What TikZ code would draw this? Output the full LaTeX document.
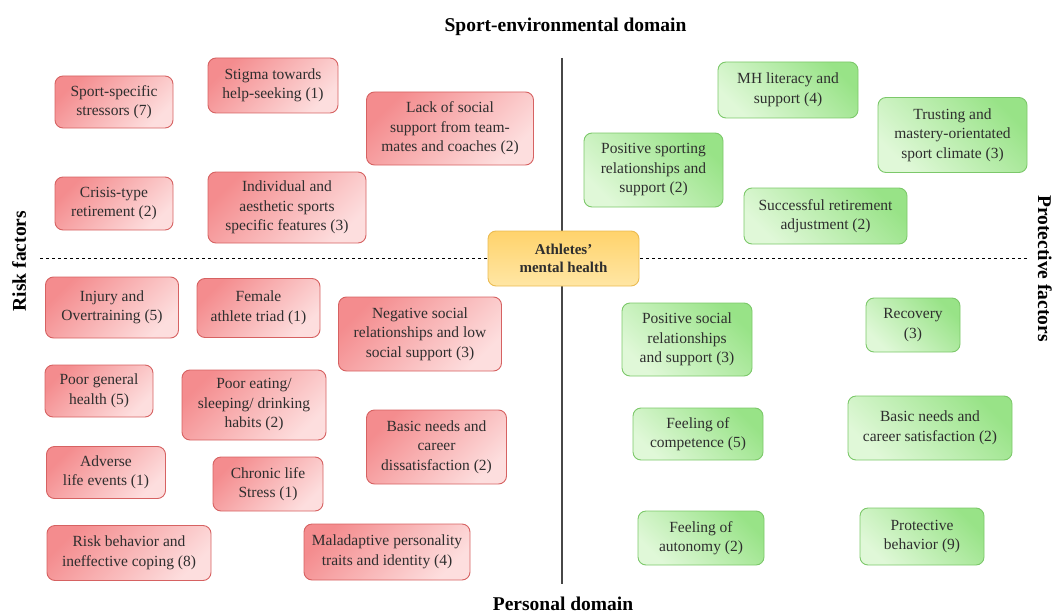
\documentclass[tikz,border=0pt]{standalone}
\usepackage{fontspec}
\setmainfont{Liberation Serif}
\usepackage{tikz}

\definecolor{riskdark}{HTML}{F48C8E}
\definecolor{risklight}{HTML}{FDDEDE}
\definecolor{riskline}{HTML}{D66262}
\definecolor{protdark}{HTML}{98E387}
\definecolor{protlight}{HTML}{E0F8D8}
\definecolor{protline}{HTML}{7CC86A}
\definecolor{coredark}{HTML}{FFD36C}
\definecolor{corelight}{HTML}{FFE6A4}
\definecolor{coreline}{HTML}{EBBB52}
\definecolor{txt}{HTML}{2E2E2E}

\begin{document}
\begin{tikzpicture}[x=1pt,y=-1pt,
  factor/.style={rounded corners=8pt, align=center, inner sep=0pt, text=txt,
    font=\fontsize{15.5}{19.5}\selectfont, line width=0.9pt},
  risk/.style={factor, draw=riskline, top color=riskdark, bottom color=risklight, shading angle=45},
  prot/.style={factor, draw=protline, top color=protdark, bottom color=protlight, shading angle=-45},
  axislabel/.style={font=\fontsize{19.5}{22}\selectfont\bfseries, text=black}]
  \useasboundingbox (0,0) rectangle (1059,615);

  % axes
  \coordinate (vtop) at (562,58);
  \coordinate (vbot) at (562,584);
  \coordinate (hleft) at (40,258);
  \coordinate (hright) at (1028,258);
  \draw[line width=1.2pt, black!72] (vtop) -- (vbot);
  \draw[dashed, line width=0.7pt] (hleft) -- (hright);

  \node[axislabel, anchor=base] (sportdom) at (565.5,32) {Sport-environmental domain};
  \node[axislabel, anchor=base] (persdom) at (563,610) {Personal domain};
  \node[axislabel, rotate=90] (risklab) at (19,261) {Risk factors};
  \node[axislabel, rotate=-90] (protlab) at (1045,268.5) {Protective factors};

  \node[rounded corners=8pt, align=center, draw=coreline, line width=0.9pt,
    top color=coredark, bottom color=corelight, minimum width=151pt, minimum height=55pt,
    font=\fontsize{15}{18}\selectfont\bfseries, text=txt] (core) at (563.5,258.5)
    {Athletes'\\mental health};

  % risk factors, sport-environmental domain
  \node[risk, minimum width=118pt, minimum height=52pt] (sss) at (114,102) {Sport-specific\\stressors (7)};
  \node[risk, minimum width=130pt, minimum height=55pt] (stigma) at (273,85.5) {Stigma towards\\help-seeking (1)};
  \node[risk, minimum width=167pt, minimum height=73pt] (lack) at (450,128.5) {Lack of social\\support from team-\\mates and coaches (2)};
  \node[risk, minimum width=118pt, minimum height=53pt] (crisis) at (114,203.5) {Crisis-type\\retirement (2)};
  \node[risk, minimum width=158pt, minimum height=71pt] (indiv) at (287,207.5) {Individual and\\aesthetic sports\\specific features (3)};

  % risk factors, personal domain
  \node[risk, minimum width=133pt, minimum height=61pt] (injury) at (112,307.5) {Injury and\\Overtraining (5)};
  \node[risk, minimum width=123pt, minimum height=59pt] (female) at (258.5,308) {Female\\athlete triad (1)};
  \node[risk, minimum width=163pt, minimum height=74pt] (negsoc) at (420,334) {Negative social\\relationships and low\\social support (3)};
  \node[risk, minimum width=108pt, minimum height=52pt] (poorgen) at (99,391) {Poor general\\health (5)};
  \node[risk, minimum width=144pt, minimum height=70pt] (pooreat) at (254,405) {Poor eating/\\sleeping/ drinking\\habits (2)};
  \node[risk, minimum width=140pt, minimum height=74pt] (dissat) at (436.5,447) {Basic needs and\\career\\dissatisfaction (2)};
  \node[risk, minimum width=119pt, minimum height=52pt] (adverse) at (106,472.5) {Adverse\\life events (1)};
  \node[risk, minimum width=110pt, minimum height=54pt] (chronic) at (268,484) {Chronic life\\Stress (1)};
  \node[risk, minimum width=164pt, minimum height=55pt] (riskbeh) at (129,553) {Risk behavior and\\ineffective coping (8)};
  \node[risk, minimum width=166pt, minimum height=56pt] (malad) at (387,552) {Maladaptive personality\\traits and identity (4)};

  % protective factors, sport-environmental domain
  \node[prot, minimum width=140pt, minimum height=56pt] (mhlit) at (788,90) {MH literacy and\\support (4)};
  \node[prot, minimum width=149pt, minimum height=75pt] (trust) at (952.5,135) {Trusting and\\mastery-orientated\\sport climate (3)};
  \node[prot, minimum width=139pt, minimum height=74pt] (possport) at (653.5,170) {Positive sporting\\relationships and\\support (2)};
  \node[prot, minimum width=163pt, minimum height=56pt] (retire) at (825.5,216) {Successful retirement\\adjustment (2)};

  % protective factors, personal domain
  \node[prot, minimum width=130pt, minimum height=73pt] (possoc) at (687,339.5) {Positive social\\relationships\\and support (3)};
  \node[prot, minimum width=94pt, minimum height=54pt] (recov) at (913,325) {Recovery\\(3)};
  \node[prot, minimum width=130pt, minimum height=52pt] (compet) at (698,434) {Feeling of\\competence (5)};
  \node[prot, minimum width=164pt, minimum height=64pt] (satisf) at (930,428) {Basic needs and\\career satisfaction (2)};
  \node[prot, minimum width=126pt, minimum height=54pt] (autonomy) at (701,538) {Feeling of\\autonomy (2)};
  \node[prot, minimum width=124pt, minimum height=57pt] (protbeh) at (922,536.5) {Protective\\behavior (9)};
\end{tikzpicture}
\end{document}
